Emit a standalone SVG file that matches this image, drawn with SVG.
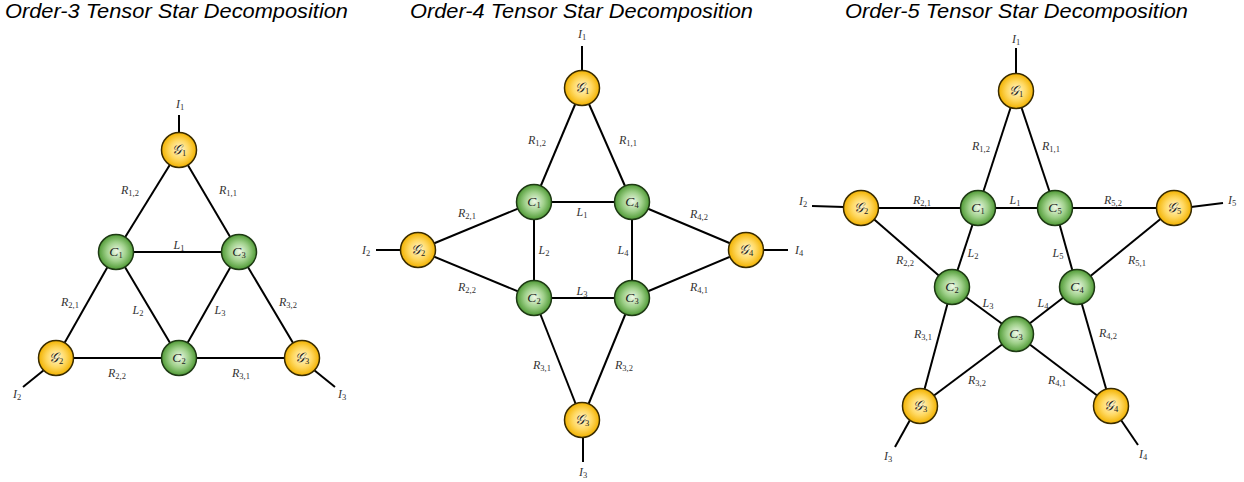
<svg xmlns="http://www.w3.org/2000/svg" width="1244" height="482" viewBox="0 0 1244 482">
<defs>
<radialGradient id="gg" cx="50%" cy="50%" r="50%" fx="52%" fy="48%">
<stop offset="0" stop-color="#eef8e8"/>
<stop offset="0.55" stop-color="#9fd08a"/>
<stop offset="1" stop-color="#4f9a35"/>
</radialGradient>
<radialGradient id="gy" cx="50%" cy="50%" r="50%" fx="52%" fy="48%">
<stop offset="0" stop-color="#fff6d0"/>
<stop offset="0.55" stop-color="#ffd860"/>
<stop offset="1" stop-color="#f2b200"/>
</radialGradient>
</defs>
<style>
.title{font-family:"Liberation Sans",Arial,sans-serif;font-style:italic;font-size:21px;fill:#000}
.e{stroke:#000;stroke-width:2;fill:none}
.gn{fill:url(#gg);stroke:#1e3a14;stroke-width:1.5}
.yn{fill:url(#gy);stroke:#3a2c00;stroke-width:1.5}
.lbl{font-family:"Liberation Serif","DejaVu Serif",serif;font-style:italic;font-size:12px;fill:#333;text-anchor:middle}
.nl{font-family:"Liberation Serif","DejaVu Serif",serif;font-style:italic;font-size:13.5px;fill:#222;text-anchor:middle}
.s{font-style:normal;font-size:8.5px}
</style>
<text class="title" x="5" y="18" textLength="343" lengthAdjust="spacingAndGlyphs">Order-3 Tensor Star Decomposition</text>
<text class="title" x="410" y="18" textLength="343" lengthAdjust="spacingAndGlyphs">Order-4 Tensor Star Decomposition</text>
<text class="title" x="845" y="18" textLength="343" lengthAdjust="spacingAndGlyphs">Order-5 Tensor Star Decomposition</text>

<g id="connectors">
<!-- order 3 -->
<line class="e" x1="179" y1="150" x2="116" y2="252"/>
<line class="e" x1="179" y1="150" x2="239" y2="252"/>
<line class="e" x1="116" y1="252" x2="239" y2="252"/>
<line class="e" x1="116" y1="252" x2="56" y2="358"/>
<line class="e" x1="116" y1="252" x2="179" y2="358"/>
<line class="e" x1="239" y1="252" x2="179" y2="358"/>
<line class="e" x1="239" y1="252" x2="302" y2="358"/>
<line class="e" x1="56" y1="358" x2="302" y2="358"/>
<line class="e" x1="179" y1="133" x2="179" y2="115"/>
<line class="e" x1="44" y1="370" x2="23" y2="387"/>
<line class="e" x1="314" y1="370" x2="335" y2="387"/>
<!-- order 4 -->
<line class="e" x1="582" y1="88" x2="534" y2="202"/>
<line class="e" x1="582" y1="88" x2="632" y2="202"/>
<line class="e" x1="534" y1="202" x2="632" y2="202"/>
<line class="e" x1="534" y1="202" x2="534" y2="298"/>
<line class="e" x1="632" y1="202" x2="632" y2="298"/>
<line class="e" x1="534" y1="298" x2="632" y2="298"/>
<line class="e" x1="418" y1="250" x2="534" y2="202"/>
<line class="e" x1="418" y1="250" x2="534" y2="298"/>
<line class="e" x1="746" y1="250" x2="632" y2="202"/>
<line class="e" x1="746" y1="250" x2="632" y2="298"/>
<line class="e" x1="582" y1="420" x2="534" y2="298"/>
<line class="e" x1="582" y1="420" x2="632" y2="298"/>
<line class="e" x1="582" y1="71" x2="582" y2="46"/>
<line class="e" x1="401" y1="250" x2="376" y2="250"/>
<line class="e" x1="763" y1="250" x2="788" y2="250"/>
<line class="e" x1="583" y1="437" x2="583" y2="462"/>
<!-- order 5 -->
<line class="e" x1="1016" y1="91" x2="978" y2="208"/>
<line class="e" x1="1016" y1="91" x2="1055" y2="208"/>
<line class="e" x1="861" y1="208" x2="1174" y2="208"/>
<line class="e" x1="861" y1="208" x2="952" y2="287"/>
<line class="e" x1="978" y1="208" x2="952" y2="287"/>
<line class="e" x1="1055" y1="208" x2="1077" y2="287"/>
<line class="e" x1="1174" y1="208" x2="1077" y2="287"/>
<line class="e" x1="952" y1="287" x2="1016" y2="334"/>
<line class="e" x1="1077" y1="287" x2="1016" y2="334"/>
<line class="e" x1="952" y1="287" x2="920" y2="406"/>
<line class="e" x1="1016" y1="334" x2="920" y2="406"/>
<line class="e" x1="1016" y1="334" x2="1111" y2="406"/>
<line class="e" x1="1077" y1="287" x2="1111" y2="406"/>
<line class="e" x1="1016" y1="74" x2="1016" y2="48"/>
<line class="e" x1="844" y1="207" x2="812" y2="206"/>
<line class="e" x1="1191" y1="207" x2="1223" y2="203"/>
<line class="e" x1="910" y1="420" x2="895" y2="447"/>
<line class="e" x1="1121" y1="420" x2="1138" y2="445"/>
</g>

<g id="o3-G1"><circle class="yn" cx="179" cy="150" r="17.5"/><text class="nl" x="179" y="154">𝒢<tspan class="s" dy="2">1</tspan></text></g>
<g id="o3-C1"><circle class="gn" cx="116" cy="252" r="17.5"/><text class="nl" x="116" y="256">C<tspan class="s" dy="2">1</tspan></text></g>
<g id="o3-C3"><circle class="gn" cx="239" cy="252" r="17.5"/><text class="nl" x="239" y="256">C<tspan class="s" dy="2">3</tspan></text></g>
<g id="o3-G2"><circle class="yn" cx="56" cy="358" r="17.5"/><text class="nl" x="56" y="362">𝒢<tspan class="s" dy="2">2</tspan></text></g>
<g id="o3-C2"><circle class="gn" cx="179" cy="358" r="17.5"/><text class="nl" x="179" y="362">C<tspan class="s" dy="2">2</tspan></text></g>
<g id="o3-G3"><circle class="yn" cx="302" cy="358" r="17.5"/><text class="nl" x="302" y="362">𝒢<tspan class="s" dy="2">3</tspan></text></g>

<g id="o4-G1"><circle class="yn" cx="582" cy="88" r="17.5"/><text class="nl" x="582" y="92">𝒢<tspan class="s" dy="2">1</tspan></text></g>
<g id="o4-C1"><circle class="gn" cx="534" cy="202" r="17.5"/><text class="nl" x="534" y="206">C<tspan class="s" dy="2">1</tspan></text></g>
<g id="o4-C4"><circle class="gn" cx="632" cy="202" r="17.5"/><text class="nl" x="632" y="206">C<tspan class="s" dy="2">4</tspan></text></g>
<g id="o4-G2"><circle class="yn" cx="418" cy="250" r="17.5"/><text class="nl" x="418" y="254">𝒢<tspan class="s" dy="2">2</tspan></text></g>
<g id="o4-G4"><circle class="yn" cx="746" cy="250" r="17.5"/><text class="nl" x="746" y="254">𝒢<tspan class="s" dy="2">4</tspan></text></g>
<g id="o4-C2"><circle class="gn" cx="534" cy="298" r="17.5"/><text class="nl" x="534" y="302">C<tspan class="s" dy="2">2</tspan></text></g>
<g id="o4-C3"><circle class="gn" cx="632" cy="298" r="17.5"/><text class="nl" x="632" y="302">C<tspan class="s" dy="2">3</tspan></text></g>
<g id="o4-G3"><circle class="yn" cx="582" cy="420" r="17.5"/><text class="nl" x="582" y="424">𝒢<tspan class="s" dy="2">3</tspan></text></g>

<g id="o5-G1"><circle class="yn" cx="1016" cy="91" r="17.5"/><text class="nl" x="1016" y="95">𝒢<tspan class="s" dy="2">1</tspan></text></g>
<g id="o5-G2"><circle class="yn" cx="861" cy="208" r="17.5"/><text class="nl" x="861" y="212">𝒢<tspan class="s" dy="2">2</tspan></text></g>
<g id="o5-C1"><circle class="gn" cx="978" cy="208" r="17.5"/><text class="nl" x="978" y="212">C<tspan class="s" dy="2">1</tspan></text></g>
<g id="o5-C5"><circle class="gn" cx="1055" cy="208" r="17.5"/><text class="nl" x="1055" y="212">C<tspan class="s" dy="2">5</tspan></text></g>
<g id="o5-G5"><circle class="yn" cx="1174" cy="208" r="17.5"/><text class="nl" x="1174" y="212">𝒢<tspan class="s" dy="2">5</tspan></text></g>
<g id="o5-C2"><circle class="gn" cx="952" cy="287" r="17.5"/><text class="nl" x="952" y="291">C<tspan class="s" dy="2">2</tspan></text></g>
<g id="o5-C4"><circle class="gn" cx="1077" cy="287" r="17.5"/><text class="nl" x="1077" y="291">C<tspan class="s" dy="2">4</tspan></text></g>
<g id="o5-C3"><circle class="gn" cx="1016" cy="334" r="17.5"/><text class="nl" x="1016" y="338">C<tspan class="s" dy="2">3</tspan></text></g>
<g id="o5-G3"><circle class="yn" cx="920" cy="406" r="17.5"/><text class="nl" x="920" y="410">𝒢<tspan class="s" dy="2">3</tspan></text></g>
<g id="o5-G4"><circle class="yn" cx="1111" cy="406" r="17.5"/><text class="nl" x="1111" y="410">𝒢<tspan class="s" dy="2">4</tspan></text></g>

<g id="labels">
<!-- order 3 -->
<text class="lbl" x="180" y="108">I<tspan class="s" dy="2">1</tspan></text>
<text class="lbl" x="17" y="398">I<tspan class="s" dy="2">2</tspan></text>
<text class="lbl" x="342" y="398">I<tspan class="s" dy="2">3</tspan></text>
<text class="lbl" x="130" y="194">R<tspan class="s" dy="2">1,2</tspan></text>
<text class="lbl" x="228" y="194">R<tspan class="s" dy="2">1,1</tspan></text>
<text class="lbl" x="179" y="249">L<tspan class="s" dy="2">1</tspan></text>
<text class="lbl" x="70" y="306">R<tspan class="s" dy="2">2,1</tspan></text>
<text class="lbl" x="138" y="314">L<tspan class="s" dy="2">2</tspan></text>
<text class="lbl" x="220" y="314">L<tspan class="s" dy="2">3</tspan></text>
<text class="lbl" x="288" y="306">R<tspan class="s" dy="2">3,2</tspan></text>
<text class="lbl" x="117" y="377">R<tspan class="s" dy="2">2,2</tspan></text>
<text class="lbl" x="241" y="377">R<tspan class="s" dy="2">3,1</tspan></text>
<!-- order 4 -->
<text class="lbl" x="582" y="38">I<tspan class="s" dy="2">1</tspan></text>
<text class="lbl" x="366" y="254">I<tspan class="s" dy="2">2</tspan></text>
<text class="lbl" x="799" y="254">I<tspan class="s" dy="2">4</tspan></text>
<text class="lbl" x="583" y="476">I<tspan class="s" dy="2">3</tspan></text>
<text class="lbl" x="537" y="144">R<tspan class="s" dy="2">1,2</tspan></text>
<text class="lbl" x="628" y="144">R<tspan class="s" dy="2">1,1</tspan></text>
<text class="lbl" x="467" y="217">R<tspan class="s" dy="2">2,1</tspan></text>
<text class="lbl" x="582" y="216">L<tspan class="s" dy="2">1</tspan></text>
<text class="lbl" x="699" y="218">R<tspan class="s" dy="2">4,2</tspan></text>
<text class="lbl" x="544" y="254">L<tspan class="s" dy="2">2</tspan></text>
<text class="lbl" x="623" y="254">L<tspan class="s" dy="2">4</tspan></text>
<text class="lbl" x="467" y="291">R<tspan class="s" dy="2">2,2</tspan></text>
<text class="lbl" x="582" y="295">L<tspan class="s" dy="2">3</tspan></text>
<text class="lbl" x="699" y="291">R<tspan class="s" dy="2">4,1</tspan></text>
<text class="lbl" x="542" y="369">R<tspan class="s" dy="2">3,1</tspan></text>
<text class="lbl" x="624" y="369">R<tspan class="s" dy="2">3,2</tspan></text>
<!-- order 5 -->
<text class="lbl" x="1016" y="43">I<tspan class="s" dy="2">1</tspan></text>
<text class="lbl" x="803" y="205">I<tspan class="s" dy="2">2</tspan></text>
<text class="lbl" x="1232" y="204">I<tspan class="s" dy="2">5</tspan></text>
<text class="lbl" x="888" y="460">I<tspan class="s" dy="2">3</tspan></text>
<text class="lbl" x="1143" y="458">I<tspan class="s" dy="2">4</tspan></text>
<text class="lbl" x="981" y="150">R<tspan class="s" dy="2">1,2</tspan></text>
<text class="lbl" x="1051" y="150">R<tspan class="s" dy="2">1,1</tspan></text>
<text class="lbl" x="922" y="204">R<tspan class="s" dy="2">2,1</tspan></text>
<text class="lbl" x="1015" y="204">L<tspan class="s" dy="2">1</tspan></text>
<text class="lbl" x="1113" y="204">R<tspan class="s" dy="2">5,2</tspan></text>
<text class="lbl" x="973" y="257">L<tspan class="s" dy="2">2</tspan></text>
<text class="lbl" x="1058" y="257">L<tspan class="s" dy="2">5</tspan></text>
<text class="lbl" x="905" y="264">R<tspan class="s" dy="2">2,2</tspan></text>
<text class="lbl" x="1137" y="264">R<tspan class="s" dy="2">5,1</tspan></text>
<text class="lbl" x="988" y="307">L<tspan class="s" dy="2">3</tspan></text>
<text class="lbl" x="1043" y="307">L<tspan class="s" dy="2">4</tspan></text>
<text class="lbl" x="923" y="338">R<tspan class="s" dy="2">3,1</tspan></text>
<text class="lbl" x="1108" y="337">R<tspan class="s" dy="2">4,2</tspan></text>
<text class="lbl" x="977" y="384">R<tspan class="s" dy="2">3,2</tspan></text>
<text class="lbl" x="1057" y="384">R<tspan class="s" dy="2">4,1</tspan></text>
</g>
</svg>
